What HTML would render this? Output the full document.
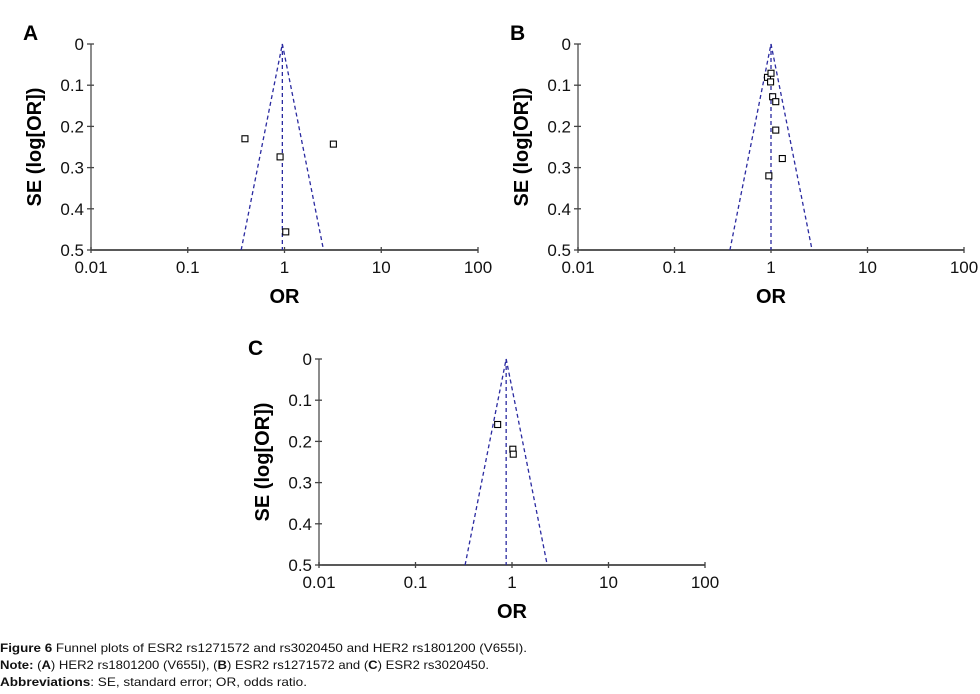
<!DOCTYPE html>
<html><head><meta charset="utf-8">
<style>
html,body{margin:0;padding:0;background:#fff;}
svg{display:block;font-family:"Liberation Sans",Arial,sans-serif;}
</style></head>
<body>
<svg id="fig" width="980" height="694" viewBox="0 0 980 694" xmlns="http://www.w3.org/2000/svg">
  <g id="panels"></g>
  <g font-size="12" fill="#111">
    <text x="0" y="652" textLength="527" lengthAdjust="spacingAndGlyphs"><tspan font-weight="bold">Figure 6</tspan> Funnel plots of ESR2 rs1271572 and rs3020450 and HER2 rs1801200 (V655I).</text>
    <text x="0" y="669" textLength="489" lengthAdjust="spacingAndGlyphs"><tspan font-weight="bold">Note:</tspan> (<tspan font-weight="bold">A</tspan>) HER2 rs1801200 (V655I), (<tspan font-weight="bold">B</tspan>) ESR2 rs1271572 and (<tspan font-weight="bold">C</tspan>) ESR2 rs3020450.</text>
    <text x="0" y="686" textLength="307" lengthAdjust="spacingAndGlyphs"><tspan font-weight="bold">Abbreviations</tspan>: SE, standard error; OR, odds ratio.</text>
  </g>
</svg>
<script>
// Panel A data
const orA = [0.39, 3.2, 0.90, 1.03];
const seA = [0.23, 0.243, 0.274, 0.456];
const pooledA = 0.95;
// Panel B data
const orB = [0.92, 1.0, 0.99, 1.04, 1.12, 1.12, 1.31, 0.95];
const seB = [0.081, 0.071, 0.092, 0.128, 0.140, 0.209, 0.278, 0.320];
const pooledB = 1.0;
// Panel C data
const orC = [0.71, 1.02, 1.03];
const seC = [0.159, 0.219, 0.231];
const pooledC = 0.87;
// Axis ticks
const xTicks = [0.01, 0.1, 1, 10, 100];
const xTickLabels = ["0.01", "0.1", "1", "10", "100"];
const yTicks = [0, 0.1, 0.2, 0.3, 0.4, 0.5];
const yTickLabels = ["0", "0.1", "0.2", "0.3", "0.4", "0.5"];

const NS = "http://www.w3.org/2000/svg";
const root = document.getElementById("panels");
function mk(tag, attrs, parent) {
  const e = document.createElementNS(NS, tag);
  for (const k in attrs) e.setAttribute(k, attrs[k]);
  parent.appendChild(e);
  return e;
}

function panel(letter, left, top, right, bottom, ors, ses, pooled, letterX, letterY, id) {
  const g = mk("g", {}, root);
  
  
  const xs = v => left + (Math.log10(v) + 2) / 4 * (right - left);
  const ys = v => top + v / 0.5 * (bottom - top);

  const lt = mk("text", {x: letterX, y: letterY, "font-size": 21, "font-weight": "bold", fill: "#000"}, g);
  lt.textContent = letter;
  
  

  const ya = mk("line", {x1: left, y1: top, x2: left, y2: bottom, stroke: "#666", "stroke-width": 1.5}, g);
  
  
  const xa = mk("line", {x1: left, y1: bottom, x2: right, y2: bottom, stroke: "#222", "stroke-width": 1.5}, g);
  
  

  yTicks.forEach((t, i) => {
    const y = ys(t);
    mk("line", {x1: left - 4, y1: y, x2: left + 3, y2: y, stroke: "#444", "stroke-width": 1.3}, g);
    const tx = mk("text", {x: left - 7, y: y + 6, "font-size": 17, "text-anchor": "end", fill: "#111"}, g);
    tx.textContent = yTickLabels[i];
    
    
  });
  xTicks.forEach((t, i) => {
    const x = xs(t);
    mk("line", {x1: x, y1: bottom - 3, x2: x, y2: bottom + 3, stroke: "#444", "stroke-width": 1.3}, g);
    const tx = mk("text", {x: x, y: bottom + 23, "font-size": 17, "text-anchor": "middle", fill: "#111"}, g);
    tx.textContent = xTickLabels[i];
    
    
  });

  const dash = {stroke: "#2a2aa0", "stroke-width": 1.3, "stroke-dasharray": "4,3", fill: "none"};
  const cx = xs(pooled);
  const lo = xs(Math.exp(Math.log(pooled) - 1.96 * 0.5));
  const hi = xs(Math.exp(Math.log(pooled) + 1.96 * 0.5));
  const f = mk("polyline", Object.assign({points: `${lo},${bottom} ${cx},${top} ${hi},${bottom}`}, dash), g);
  
  
  const c = mk("line", Object.assign({x1: cx, y1: top, x2: cx, y2: bottom}, dash), g);
  
  

  ors.forEach((o, i) => {
    const r = mk("rect", {x: xs(o) - 3, y: ys(ses[i]) - 3, width: 6, height: 6, fill: "#fff", stroke: "#000", "stroke-width": 1.1}, g);
    
    
  });

  const yt = mk("text", {x: 0, y: 0, "font-size": 20, "font-weight": "bold", "text-anchor": "middle", fill: "#000",
    transform: `translate(${left - 50},${(top + bottom) / 2}) rotate(-90)`}, g);
  yt.textContent = "SE (log[OR])";
  
  
  const xt = mk("text", {x: xs(1), y: bottom + 53, "font-size": 20, "font-weight": "bold", "text-anchor": "middle", fill: "#000"}, g);
  xt.textContent = "OR";
  
  
}

panel("A", 91, 44, 478, 250, orA, seA, pooledA, 23, 40, "a");
panel("B", 578, 44, 964, 250, orB, seB, pooledB, 510, 40, "b");
panel("C", 319, 359, 705, 565, orC, seC, pooledC, 248, 355, "c");
</script>
</body></html>
